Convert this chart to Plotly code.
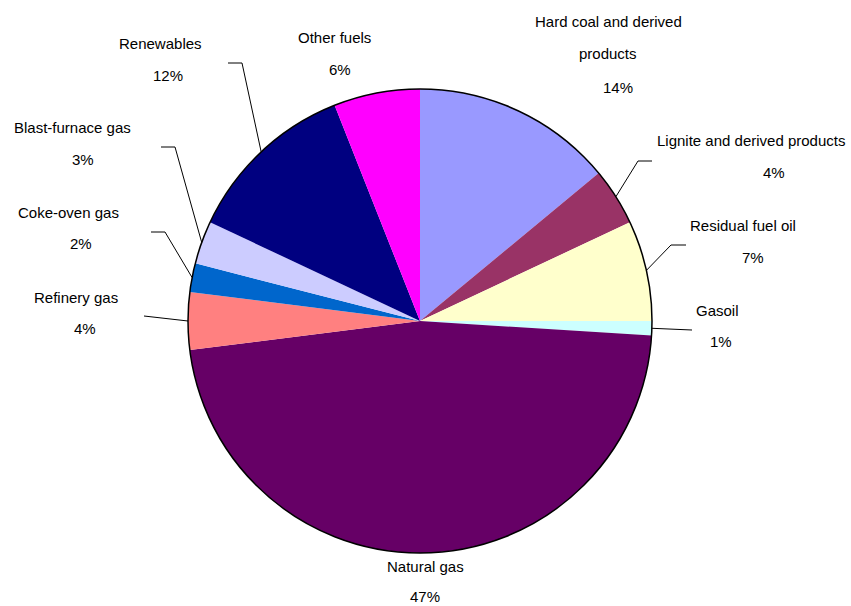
import math
import plotly.graph_objects as go

# ---- data ----
categories = ["Hard coal and derived products", "Lignite and derived products",
              "Residual fuel oil", "Gasoil", "Natural gas", "Refinery gas",
              "Coke-oven gas", "Blast-furnace gas", "Renewables", "Other fuels"]
values = [14, 4, 7, 1, 47, 4, 2, 3, 12, 6]
colors = ["#9999FF", "#993366", "#FFFFCC", "#CCFFFF", "#660066", "#FF8080",
          "#0066CC", "#CCCCFF", "#000080", "#FF00FF"]
label_lines = [["Hard coal and derived", "products"], ["Lignite and derived products"],
               ["Residual fuel oil"], ["Gasoil"], ["Natural gas"], ["Refinery gas"],
               ["Coke-oven gas"], ["Blast-furnace gas"], ["Renewables"], ["Other fuels"]]

# ---- layout (pixels) ----
W, H = 851, 606
CX, CY, R = 420, 321, 232
LINE_GAP = 32
name_pos = [(608, 22), (751, 140), (743, 225), (717, 310), (425, 566),
            (76, 297), (68, 212), (72, 127), (160, 43), (334, 37)]
pct_pos = [(618, 87), (774, 173), (753, 257), (721, 342), (425, 596),
           (85, 328), (81, 243), (83, 160), (168, 75), (340, 69)]
leaders = [None, ((652, 161), (638, 161)), ((686, 245), (671, 245)),
           ((692, 330), (692, 330)), None, ((144, 316), (144, 316)),
           ((151, 232), (165, 232)), ((161, 147), (175, 147)),
           ((228, 63), (242, 63)), None]

FONT = dict(family="Liberation Sans, Arial, sans-serif", size=15, color="#000000")


def px(x):
    return x / W


def py(y):
    return 1 - y / H


fig = go.Figure(go.Pie(
    labels=categories, values=values, sort=False, direction="clockwise",
    rotation=0, textinfo="none", hoverinfo="label+percent",
    marker=dict(colors=colors, line=dict(width=0)),
    domain=dict(x=[px(CX - R), px(CX + R)], y=[py(CY + R), py(CY - R)]),
    showlegend=False,
))

annotations = []
shapes = []
total = sum(values)
cum = 0
for i, v in enumerate(values):
    mid = (cum + v / 2) / total
    cum += v
    nx, ny = name_pos[i]
    for k, line in enumerate(label_lines[i]):
        annotations.append(dict(x=px(nx), y=py(ny + k * LINE_GAP), xref="paper", yref="paper",
                                text=line, showarrow=False, font=FONT,
                                xanchor="center", yanchor="middle"))
    qx, qy = pct_pos[i]
    annotations.append(dict(x=px(qx), y=py(qy), xref="paper", yref="paper",
                            text=f"{v}%", showarrow=False, font=FONT,
                            xanchor="center", yanchor="middle"))
    if leaders[i] is not None:
        (sx, sy), (ex, ey) = leaders[i]
        ang = 2 * math.pi * mid
        tx = CX + R * math.sin(ang)
        ty = CY - R * math.cos(ang)
        path = f"M {px(sx)},{py(sy)} L {px(ex)},{py(ey)} L {px(tx)},{py(ty)}"
        shapes.append(dict(type="path", path=path, xref="paper", yref="paper",
                           line=dict(color="#000000", width=1)))

# outer outline of the pie
shapes.append(dict(type="circle", xref="paper", yref="paper",
                   x0=px(CX - R), x1=px(CX + R), y0=py(CY + R), y1=py(CY - R),
                   line=dict(color="#000000", width=1.5)))

fig.update_layout(
    width=W, height=H, margin=dict(l=0, r=0, t=0, b=0),
    paper_bgcolor="white", plot_bgcolor="white",
    annotations=annotations, shapes=shapes,
)

fig.write_html("out.html")
